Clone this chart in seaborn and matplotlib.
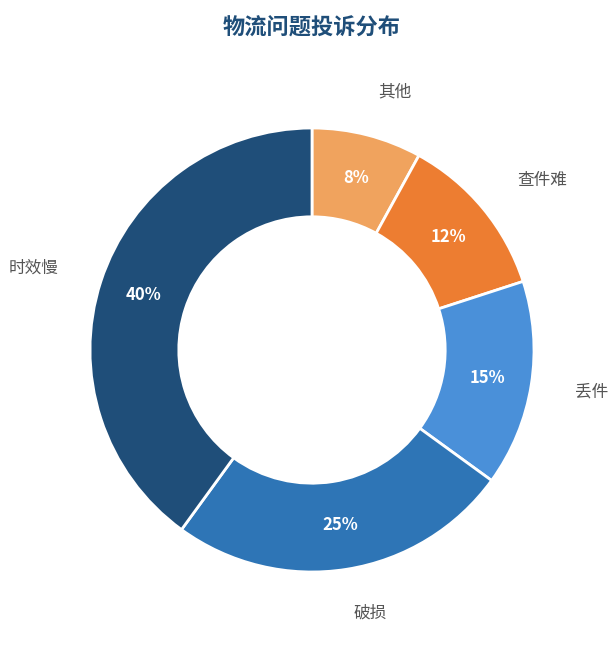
import matplotlib
matplotlib.use("Agg")
import matplotlib.pyplot as plt
import seaborn as sns

categories = ["其他", "查件难", "丢件", "破损", "时效慢"]
values = [8, 12, 15, 25, 40]
colors = ["#F0A35E", "#ED7D31", "#4A90D9", "#2E75B6", "#1F4E79"]

sns.set_theme(style="white")
plt.rcParams['font.family'] = ['Noto Sans CJK SC', 'DejaVu Sans']

fig = plt.figure(figsize=(6.12, 6.45), dpi=100)
W, H = 612, 645
cx, cy, r = 312, 350, 222
ax = fig.add_axes([(cx - r) / W, 1 - (cy + r) / H, 2 * r / W, 2 * r / H])

wedges, texts, autotexts = ax.pie(
    values, labels=categories, colors=colors, startangle=90, counterclock=False,
    autopct="%d%%", pctdistance=0.8, labeldistance=1.2,
    wedgeprops=dict(width=0.4, edgecolor="white", linewidth=2),
    textprops=dict(fontsize=12, color="#555555"))
for t in autotexts:
    t.set_color("white")
    t.set_fontsize(12)
    t.set_fontweight("bold")
for t in texts:
    t.set_clip_on(False)
ax.set_xlim(-1, 1)
ax.set_ylim(-1, 1)
ax.set_aspect("equal")

fig.text(0.51, 1 - 28 / H, "物流问题投诉分布", ha="center", va="center",
         fontsize=16, fontweight="bold", color="#1F4E79")

fig.savefig("out.png", dpi=100)
